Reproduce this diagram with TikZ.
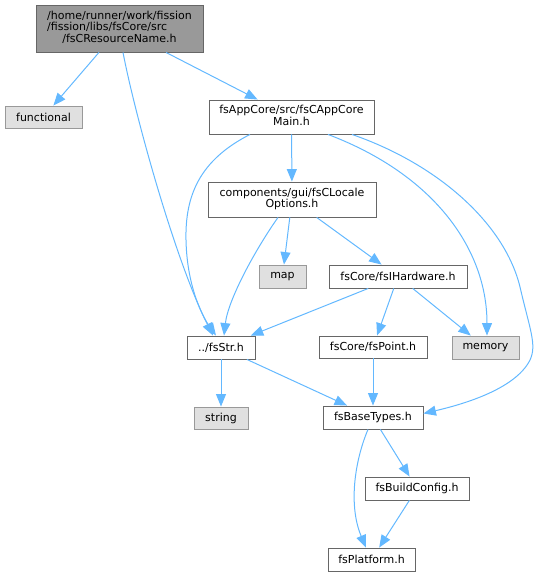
\documentclass[tikz,border=0pt]{standalone}
\usepackage{fontspec}
\setmainfont{DejaVu Sans}
\usetikzlibrary{arrows.meta}
\definecolor{edgec}{HTML}{63B8FF}
\definecolor{rootfill}{HTML}{999999}
\definecolor{rootdraw}{HTML}{666666}
\definecolor{libfill}{HTML}{E0E0E0}
\definecolor{libdraw}{HTML}{999999}
\begin{document}
\begin{tikzpicture}[x=1pt,y=-1pt,
  nbox/.style={draw=rootdraw, fill=white, line width=0.9pt, inner sep=0pt,
    font=\fontsize{11}{11.3}\selectfont},
  rootbox/.style={nbox, fill=rootfill},
  libbox/.style={nbox, draw=libdraw, fill=libfill},
  dep/.style={draw=edgec, line width=1pt, -{Triangle[length=12.5pt,width=10pt]}}]
\useasboundingbox (0,0) rectangle (539,576);

\node[rootbox, minimum width=167pt, minimum height=47pt] (root) at (119.5,28.5)
  {\begin{tabular}{@{}l@{}}/home/runner/work/fission\\/fission/libs/fsCore/src\\\multicolumn{1}{@{}c@{}}{/fsCResourceName.h}\end{tabular}};
\node[libbox, minimum width=77pt, minimum height=22pt] (functional) at (43.5,117) {functional};
\node[nbox, minimum width=165pt, minimum height=34pt] (appcore) at (291.5,117)
  {\begin{tabular}{@{}l@{}}fsAppCore/src/fsCAppCore\\\multicolumn{1}{@{}c@{}}{Main.h}\end{tabular}};
\node[nbox, minimum width=168pt, minimum height=35pt] (components) at (292,199.5)
  {\begin{tabular}{@{}l@{}}components/gui/fsCLocale\\\multicolumn{1}{@{}c@{}}{Options.h}\end{tabular}};
\node[libbox, minimum width=47pt, minimum height=23pt] (map) at (282.5,276.5) {map};
\node[nbox, minimum width=138pt, minimum height=23pt] (hardware) at (398,276.5) {fsCore/fsIHardware.h};
\node[nbox, minimum width=68pt, minimum height=23pt] (fsstr) at (221,347.5) {../fsStr.h};
\node[nbox, minimum width=108pt, minimum height=22pt] (point) at (373,347) {fsCore/fsPoint.h};
\node[libbox, minimum width=67pt, minimum height=23pt] (memory) at (485.5,347.5) {memory};
\node[libbox, minimum width=54pt, minimum height=22pt] (string) at (221,418) {string};
\node[nbox, minimum width=100pt, minimum height=23pt] (fsbase) at (373,417.5) {fsBaseTypes.h};
\node[nbox, minimum width=104pt, minimum height=23pt] (buildcfg) at (417,488.5) {fsBuildConfig.h};
\node[nbox, minimum width=87pt, minimum height=23pt] (platform) at (371.5,559.5) {fsPlatform.h};

\draw[dep] (root) -- (functional);
\draw[dep] (root) -- (appcore);
\draw[dep] ([xshift=3.5pt]root.south) .. controls (135,115) and (175,260) .. ([xshift=-8pt]fsstr.north);
\draw[dep] ([xshift=-41.5pt]appcore.south) .. controls (200,160) and (185,195) .. (186,240)
  .. controls (187,290) and (205,320) .. ([xshift=-5pt]fsstr.north);
\draw[dep] (appcore) -- (components);
\draw[dep] ([xshift=36.5pt]appcore.south) .. controls (435,175) and (487,250) .. ([xshift=1.5pt]memory.north);
\draw[dep] ([xshift=60.5pt]appcore.south) .. controls (440,165) and (505,225) .. (520,287)
  .. controls (530,330) and (537,345) .. (530,360)
  .. controls (515,390) and (460,405) .. ([yshift=4pt]fsbase.east);
\draw[dep] (components) -- (map);
\draw[dep] (components) -- (hardware);
\draw[dep] ([xshift=-14pt]components.south) .. controls (255,250) and (228,300) .. ([xshift=3pt]fsstr.north);
\draw[dep] (hardware) -- (fsstr);
\draw[dep] (hardware) -- (point);
\draw[dep] (hardware) -- (memory);
\draw[dep] (fsstr) -- (string);
\draw[dep] (fsstr) -- (fsbase);
\draw[dep] (point) -- (fsbase);
\draw[dep] ([xshift=-5pt]fsbase.south) .. controls (355,460) and (348,505) .. ([xshift=-5.5pt]platform.north);
\draw[dep] (fsbase) -- (buildcfg);
\draw[dep] (buildcfg) -- (platform);
\end{tikzpicture}
\end{document}
